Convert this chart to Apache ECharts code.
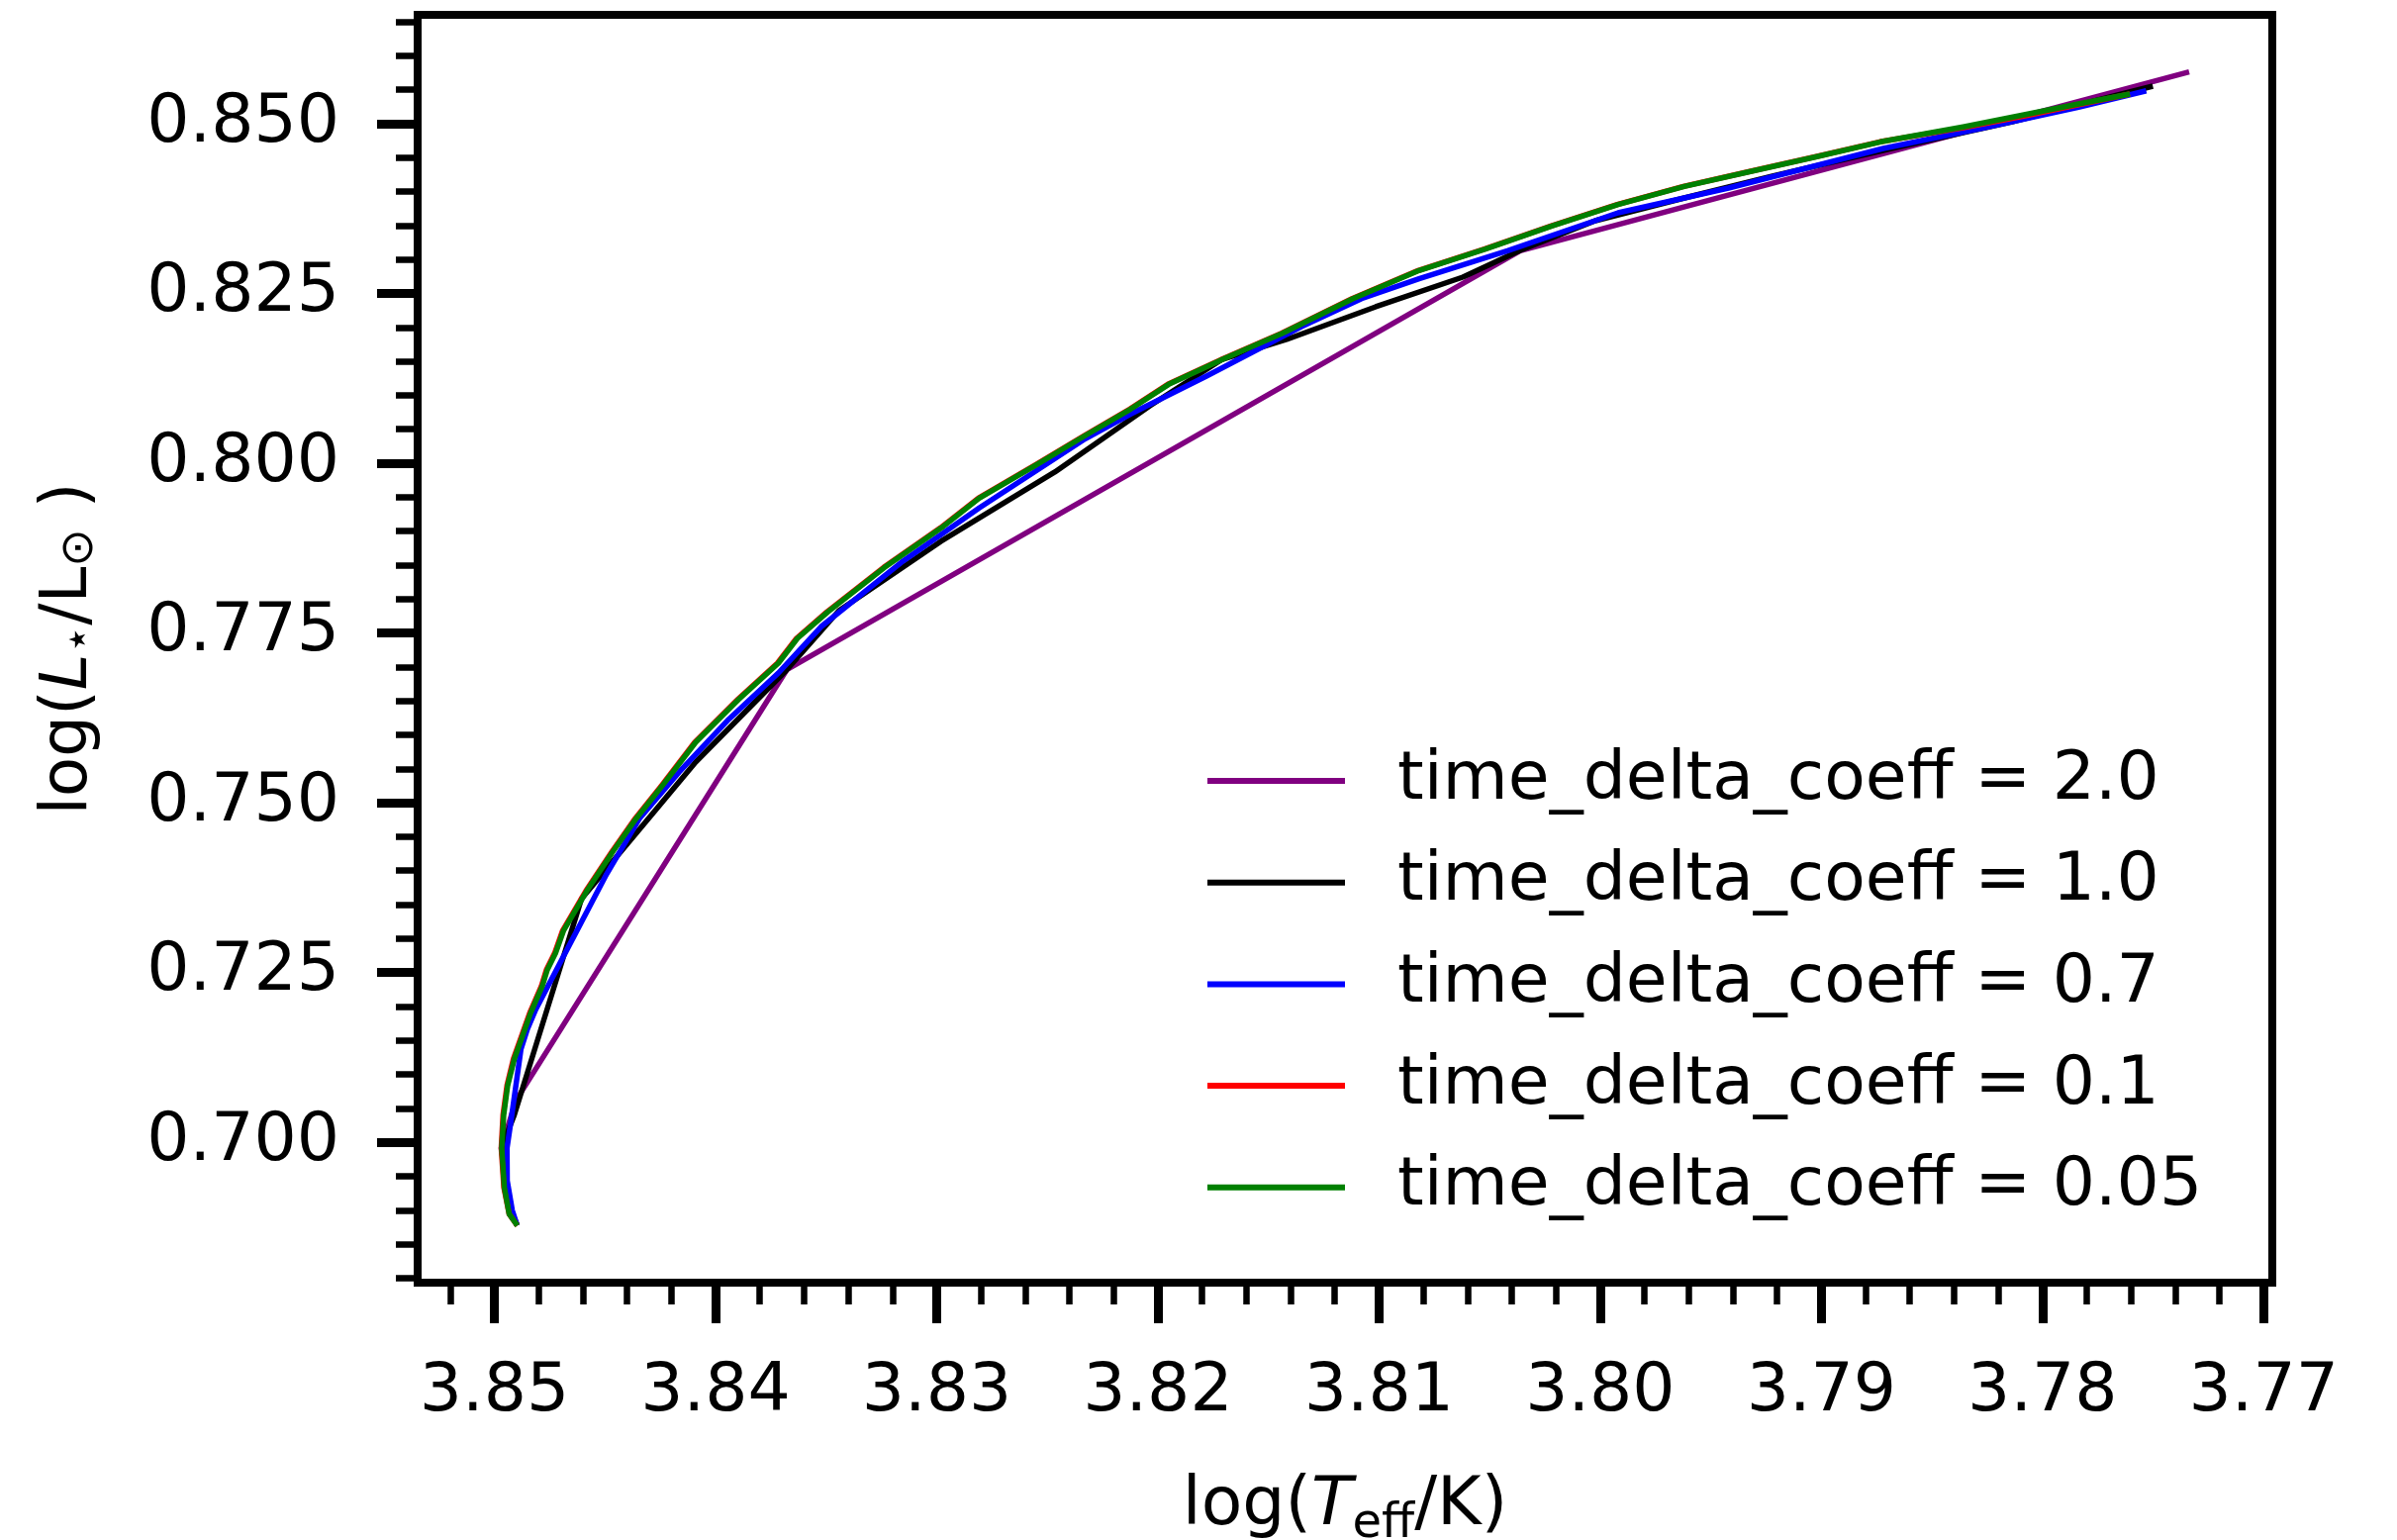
<!DOCTYPE html>
<html>
<head>
<meta charset="utf-8">
<script src="https://cdn.jsdelivr.net/npm/echarts@6/dist/echarts.min.js"></script>
<style>
html,body{margin:0;padding:0;background:#ffffff;}
#chart{width:2422px;height:1556px;}
</style>
</head>
<body>
<div id="chart"></div>
<script>
// ---------- data ----------
const xMajorTicks = [3.85, 3.84, 3.83, 3.82, 3.81, 3.80, 3.79, 3.78, 3.77];
const xMinorTicks = [3.852, 3.848, 3.846, 3.844, 3.842, 3.838, 3.836, 3.834, 3.832,
  3.828, 3.826, 3.824, 3.822, 3.818, 3.816, 3.814, 3.812, 3.808, 3.806, 3.804, 3.802,
  3.798, 3.796, 3.794, 3.792, 3.788, 3.786, 3.784, 3.782, 3.778, 3.776, 3.774, 3.772];
const yMajorTicks = [0.700, 0.725, 0.750, 0.775, 0.800, 0.825, 0.850];
const yMinorTicks = [0.680, 0.685, 0.690, 0.695, 0.705, 0.710, 0.715, 0.720, 0.730,
  0.735, 0.740, 0.745, 0.755, 0.760, 0.765, 0.770, 0.780, 0.785, 0.790, 0.795, 0.805,
  0.810, 0.815, 0.820, 0.830, 0.835, 0.840, 0.845, 0.855, 0.860, 0.865];
const xRange = [3.76961, 3.85347];
const yRange = [0.67933, 0.86603];

const seriesNames = [
  'time_delta_coeff = 2.0',
  'time_delta_coeff = 1.0',
  'time_delta_coeff = 0.7',
  'time_delta_coeff = 0.1',
  'time_delta_coeff = 0.05'
];
const seriesColors = ['#800080', '#000000', '#0000ff', '#ff0000', '#008000'];

// [log Teff, log L]
const coeff2_0 = [[3.84897,0.68778],[3.84928,0.69011],[3.84969,0.69915],[3.84902,0.70620],
  [3.83678,0.76959],[3.80362,0.83130],[3.77337,0.85762]];

const coeff1_0 = [[3.84897,0.68778],[3.84928,0.69011],[3.84955,0.69623],[3.84951,0.70061],
  [3.84910,0.70403],[3.84606,0.73588],[3.84090,0.75600],[3.83679,0.76955],[3.83442,0.77829],
  [3.82981,0.78850],[3.82466,0.79870],[3.82036,0.80846],[3.81709,0.81531],[3.81418,0.81823],
  [3.81015,0.82304],[3.80621,0.82741],[3.80362,0.83134],[3.80022,0.83572],[3.79619,0.83907],
  [3.79221,0.84228],[3.78683,0.84636],[3.78137,0.85029],[3.77501,0.85554]];

const coeff0_7 = [[3.84897,0.68778],[3.84919,0.68997],[3.84942,0.69434],[3.84943,0.69915],
  [3.84925,0.70314],[3.84880,0.71372],[3.84851,0.71664],[3.84813,0.71955],[3.84657,0.72928],
  [3.84493,0.73948],[3.84343,0.74773],[3.84164,0.75454],[3.83940,0.76230],[3.83716,0.76911],
  [3.83523,0.77592],[3.83151,0.78563],[3.82808,0.79341],[3.82328,0.80361],[3.82123,0.80726],
  [3.81780,0.81284],[3.81351,0.82012],[3.81079,0.82425],[3.80819,0.82716],[3.80419,0.83130],
  [3.79919,0.83688],[3.79420,0.84053],[3.78720,0.84636],[3.78284,0.84927],[3.77837,0.85243],
  [3.77531,0.85485]];

const coeff0_1 = [[3.84896,0.68773],[3.84933,0.68943],[3.84957,0.69332],[3.84969,0.69915],
  [3.84961,0.70400],[3.84943,0.70837],[3.84914,0.71227],[3.84877,0.71566],[3.84840,0.71907],
  [3.84788,0.72295],[3.84765,0.72538],[3.84728,0.72782],[3.84691,0.73121],[3.84586,0.73704],
  [3.84467,0.74287],[3.84362,0.74773],[3.84243,0.75259],[3.84094,0.75891],[3.83900,0.76522],
  [3.83720,0.77057],[3.83634,0.77421],[3.83497,0.77810],[3.83240,0.78466],[3.82983,0.79049],
  [3.82812,0.79486],[3.82555,0.79972],[3.82332,0.80409],[3.82127,0.80798],[3.81955,0.81162],
  [3.81698,0.81550],[3.81441,0.81914],[3.81122,0.82425],[3.80823,0.82839],[3.80523,0.83153],
  [3.80223,0.83494],[3.79923,0.83809],[3.79624,0.84077],[3.79324,0.84296],[3.79024,0.84515],
  [3.78736,0.84733],[3.78359,0.84940],[3.78061,0.85128],[3.77837,0.85280],[3.77605,0.85437]];

const coeff0_05 = [[3.84896,0.68773],[3.84933,0.68943],[3.84955,0.69332],[3.84967,0.69915],
  [3.84958,0.70400],[3.84940,0.70837],[3.84910,0.71227],[3.84873,0.71566],[3.84836,0.71907],
  [3.84784,0.72295],[3.84761,0.72538],[3.84724,0.72782],[3.84687,0.73121],[3.84582,0.73704],
  [3.84463,0.74287],[3.84358,0.74773],[3.84239,0.75259],[3.84090,0.75891],[3.83896,0.76522],
  [3.83716,0.77057],[3.83630,0.77421],[3.83493,0.77810],[3.83236,0.78466],[3.82979,0.79049],
  [3.82808,0.79486],[3.82551,0.79972],[3.82328,0.80409],[3.82123,0.80798],[3.81951,0.81162],
  [3.81694,0.81550],[3.81437,0.81914],[3.81118,0.82425],[3.80819,0.82839],[3.80519,0.83153],
  [3.80219,0.83494],[3.79919,0.83809],[3.79620,0.84077],[3.79320,0.84296],[3.79020,0.84515],
  [3.78732,0.84733],[3.78359,0.84952],[3.78061,0.85146],[3.77837,0.85292],[3.77605,0.85437]];

const seriesData = [coeff2_0, coeff1_0, coeff0_7, coeff0_1, coeff0_05];

// ---------- chart ----------
const FONT = 'DejaVu Sans';
const chart = echarts.init(document.getElementById('chart'), null, {renderer: 'canvas'});

const baseAxis = (isX) => ({
  type: 'value',
  gridIndex: 0,
  min: isX ? xRange[0] : yRange[0],
  max: isX ? xRange[1] : yRange[1],
  inverse: isX,
  position: isX ? 'bottom' : 'left',
  axisLine: {show: false},
  splitLine: {show: false}
});

const option = {
  animation: false,
  backgroundColor: '#ffffff',
  grid: {
    left: 422, top: 15, right: 126, bottom: 260,
    containLabel: false,
    outerBoundsMode: 'none',
    show: true, borderColor: '#000000', borderWidth: 8, backgroundColor: 'transparent'
  },
  legend: {
    orient: 'vertical',
    left: 1220, top: 749,
    padding: 0,
    icon: 'rect',
    itemWidth: 139, itemHeight: 6,
    itemGap: 22.7,
    selectedMode: false,
    data: seriesNames,
    textStyle: {fontFamily: FONT, fontSize: 68, color: '#000000', lineHeight: 80, padding: [0, 0, 0, 48]}
  },
  xAxis: [
    Object.assign(baseAxis(true), {
      axisTick: {show: true, customValues: xMajorTicks, length: 41, lineStyle: {color: '#000', width: 9}},
      axisLabel: {show: true, customValues: xMajorTicks, formatter: v => Number(v).toFixed(2),
        fontFamily: FONT, fontSize: 68, color: '#000', margin: 77},
      name: '{n|log(}{i|T}{s|eff}{n|/K)}',
      nameLocation: 'middle',
      nameGap: 181,
      nameTextStyle: {
        fontFamily: FONT, fontSize: 68, color: '#000',
        rich: {
          n: {fontFamily: FONT, fontSize: 68, color: '#000', lineHeight: 90},
          i: {fontFamily: FONT, fontSize: 68, color: '#000', fontStyle: 'italic', lineHeight: 90},
          s: {fontFamily: FONT, fontSize: 48, color: '#000', lineHeight: 48, padding: [38, 0, 0, 0]}
        }
      }
    }),
    Object.assign(baseAxis(true), {
      axisTick: {show: true, customValues: xMinorTicks, length: 22, lineStyle: {color: '#000', width: 6.5}},
      axisLabel: {show: false}
    })
  ],
  yAxis: [
    Object.assign(baseAxis(false), {
      axisTick: {show: true, customValues: yMajorTicks, length: 41, lineStyle: {color: '#000', width: 9}},
      axisLabel: {show: true, customValues: yMajorTicks, formatter: v => Number(v).toFixed(3),
        fontFamily: FONT, fontSize: 68, color: '#000', margin: 79},
      name: '{n|log(}{i|L}{s|⋆}{n|/L}{s|⊙}{n| )}',
      nameLocation: 'middle',
      nameRotate: 90,
      nameGap: 312,
      nameTextStyle: {
        fontFamily: FONT, fontSize: 66, color: '#000',
        rich: {
          n: {fontFamily: FONT, fontSize: 66, color: '#000', lineHeight: 80},
          i: {fontFamily: FONT, fontSize: 66, color: '#000', fontStyle: 'italic', lineHeight: 80},
          s: {fontFamily: FONT, fontSize: 46, color: '#000', lineHeight: 46, padding: [22, 0, 0, 0]}
        }
      }
    }),
    Object.assign(baseAxis(false), {
      axisTick: {show: true, customValues: yMinorTicks, length: 22, lineStyle: {color: '#000', width: 6.5}},
      axisLabel: {show: false}
    })
  ],
  series: seriesData.map((d, i) => ({
    name: seriesNames[i],
    type: 'line',
    xAxisIndex: 0,
    yAxisIndex: 0,
    data: d,
    showSymbol: false,
    symbol: 'none',
    smooth: false,
    itemStyle: {color: seriesColors[i]},
    lineStyle: {color: seriesColors[i], width: 5.5, cap: 'butt', join: 'round'},
    emphasis: {disabled: true},
    z: 2 + i
  }))
};

chart.setOption(option);
</script>
</body>
</html>
